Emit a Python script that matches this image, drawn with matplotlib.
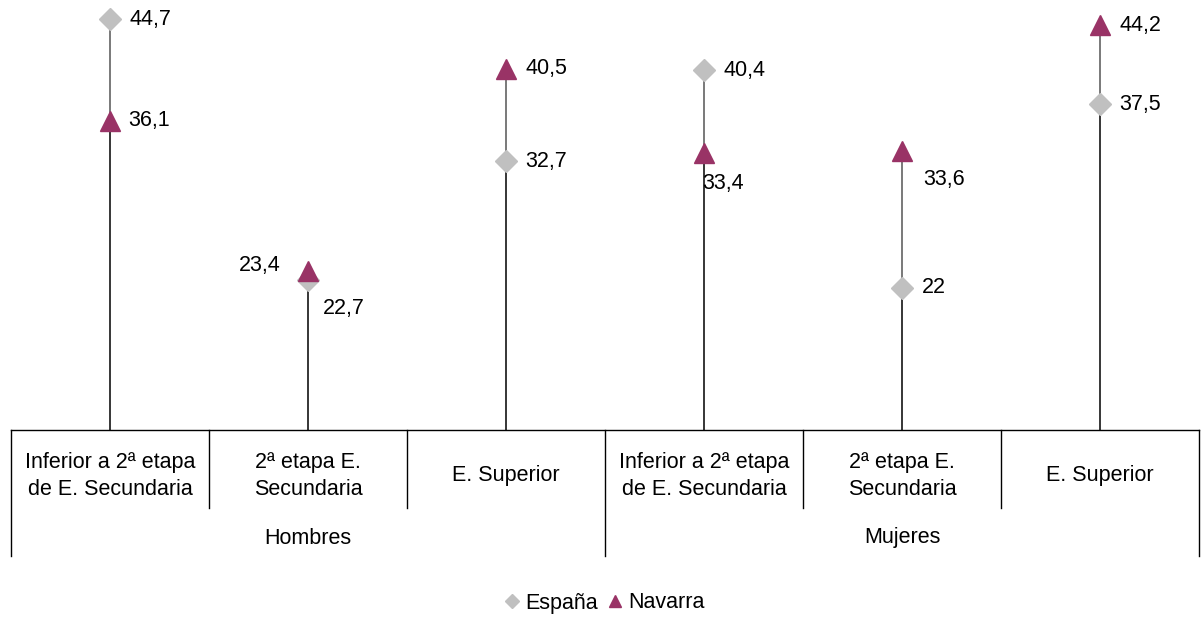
import matplotlib
matplotlib.use("Agg")
import matplotlib.pyplot as plt
from matplotlib.lines import Line2D

plt.rcParams['font.family'] = ['Liberation Sans', 'DejaVu Sans']

categories = ["Inferior a 2ª etapa\nde E. Secundaria", "2ª etapa E.\nSecundaria", "E. Superior",
              "Inferior a 2ª etapa\nde E. Secundaria", "2ª etapa E.\nSecundaria", "E. Superior"]
groups = ["Hombres", "Mujeres"]
espana = [44.7, 22.7, 32.7, 40.4, 22.0, 37.5]
navarra = [36.1, 23.4, 40.5, 33.4, 33.6, 44.2]

def fmt(v):
    s = f"{v:.1f}".replace(".", ",")
    return s[:-2] if s.endswith(",0") else s

# label offsets in points (dx, dy, ha) -- styling only
esp_off = [(14, 0, 'left'), (11, -21, 'left'), (14, 0, 'left'), (14, 0, 'left'), (14, 0, 'left'), (14, 0, 'left')]
nav_off = [(13, 0, 'left'), (-20, 4, 'right'), (14, 0, 'left'), (-1, -22, 'left'), (15, -21, 'left'), (14, 0, 'left')]

W, H = 1201, 617
fig = plt.figure(figsize=(W / 100, H / 100), dpi=100)
ax_bottom_px = 430
ax_top_px = 15.6
ax = fig.add_axes([11 / W, (H - ax_bottom_px) / H, 1188 / W, (ax_bottom_px - ax_top_px) / H])
ax.set_xlim(0, 6)
ax.set_ylim(10, 45)
ax.axis('off')

gray = '#C0C0C0'
plum = '#993366'
x = [i + 0.5 for i in range(len(categories))]

for xi, e, n in zip(x, espana, navarra):
    lo, hi = min(e, n), max(e, n)
    ax.plot([xi, xi], [10, lo], color='black', lw=1.1, zorder=1, solid_capstyle='butt', clip_on=False)
    ax.plot([xi, xi], [lo, hi], color='#555555', lw=1.1, zorder=1, solid_capstyle='butt', clip_on=False)

ax.plot(x, espana, linestyle='none', marker='D', ms=11.5, color=gray, mec=gray, zorder=3, clip_on=False)
ax.plot(x, navarra, linestyle='none', marker='^', ms=14, color=plum, mec=plum, zorder=4, clip_on=False)

fs = 15.5
for xi, v, (dx, dy, ha) in zip(x, espana, esp_off):
    ax.annotate(fmt(v), (xi, v), xytext=(dx, dy), textcoords='offset points',
                ha=ha, va='center', fontsize=fs, color='black')
for xi, v, (dx, dy, ha) in zip(x, navarra, nav_off):
    ax.annotate(fmt(v), (xi, v), xytext=(dx, dy), textcoords='offset points',
                ha=ha, va='center', fontsize=fs, color='black')

def fx(px):
    return px / W
def fy(py):
    return 1 - py / H

left_px, right_px = 11, 1199
cw = (right_px - left_px) / 6
fig.add_artist(Line2D([fx(left_px), fx(right_px)], [fy(ax_bottom_px), fy(ax_bottom_px)], color='black', lw=1.0))
for i in range(7):
    xp = left_px + i * cw
    yend = 556 if i % 3 == 0 else 508
    fig.add_artist(Line2D([fx(xp), fx(xp)], [fy(ax_bottom_px), fy(yend)], color='black', lw=1.0))

for i, c in enumerate(categories):
    xp = left_px + (i + 0.5) * cw
    fig.text(fx(xp), fy(476), c, ha='center', va='center', fontsize=fs, linespacing=1.42)
for g, name in enumerate(groups):
    xp = left_px + (g * 3 + 1.5) * cw
    fig.text(fx(xp), fy(538), name, ha='center', va='center', fontsize=fs)

handles = [Line2D([], [], linestyle='none', marker='D', ms=7, color=gray, mec=gray),
           Line2D([], [], linestyle='none', marker='^', ms=9, color=plum, mec=plum)]
fig.legend(handles, ["España", "Navarra"], loc='center', bbox_to_anchor=(fx(604), fy(603)),
           ncol=2, frameon=False, fontsize=fs, handlelength=0.8, handletextpad=0.2,
           columnspacing=0.4, borderpad=0)

fig.savefig('out.png', dpi=100)
